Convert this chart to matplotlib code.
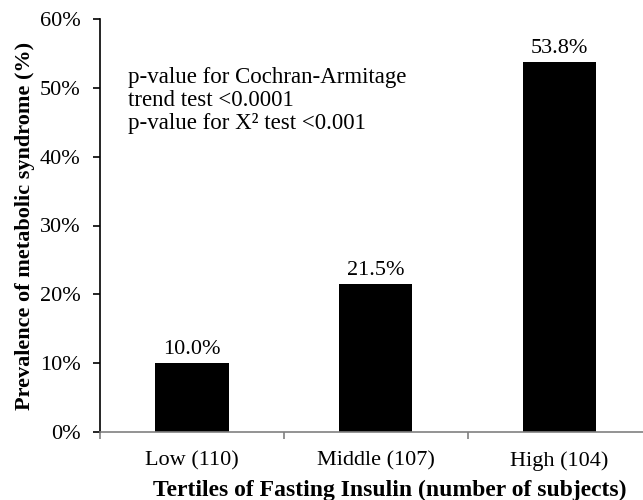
import matplotlib
matplotlib.use("Agg")
import matplotlib.pyplot as plt
from matplotlib.ticker import FixedLocator, NullFormatter

categories = ["Low (110)", "Middle (107)", "High (104)"]
values = [10.0, 21.5, 53.8]
value_labels = ["10.0%", "21.5%", "53.8%"]
yticks = [0, 10, 20, 30, 40, 50, 60]
notes = ["p-value for Cochran-Armitage", "trend test <0.0001", "p-value for X\u00b2 test <0.001"]

plt.rcParams['font.family'] = ['Liberation Serif', 'DejaVu Serif']

fig = plt.figure(figsize=(6.43, 5.0), dpi=100)
W, H = 643, 500
ax = fig.add_axes([100 / W, (H - 432) / H, (643 - 100) / W, (432 - 19) / H])

x = list(range(len(categories)))
ax.bar(x, values, width=0.40, color='black')
for xi, v, lab in zip(x, values, value_labels):
    ax.text(xi, v + 0.6, lab, ha='center', va='bottom', fontsize=16)

ax.set_xlim(-0.5, 2.454)
ax.set_ylim(0, 60)
ax.set_yticks(yticks)
ax.set_yticklabels([f"{t}%" for t in yticks], fontsize=16)
ax.set_xticks(x)
ax.set_xticklabels(categories, fontsize=16)
ax.tick_params(axis='x', which='major', length=0, pad=14)
ax.xaxis.set_minor_locator(FixedLocator([-0.5, 0.5, 1.5]))
ax.xaxis.set_minor_formatter(NullFormatter())
ax.tick_params(axis='x', which='minor', length=5, color='#808080', direction='out', width=1.2)
ax.tick_params(axis='y', length=5, direction='out', width=1.2, pad=9)

for s in ['top', 'right']:
    ax.spines[s].set_visible(False)
ax.spines['left'].set_linewidth(1.2)
ax.spines['bottom'].set_color('#808080')
ax.spines['bottom'].set_linewidth(1.2)

ax.set_xlabel("Tertiles of Fasting Insulin (number of subjects)", fontsize=17,
              fontweight='bold', va='center')
ax.xaxis.set_label_coords((390 - 100) / 543, (432 - 490) / 413)
ax.set_ylabel("Prevalence of metabolic syndrome (%)", fontsize=16,
              fontweight='bold', va='center')
ax.yaxis.set_label_coords((25 - 100) / 543, (432 - 226) / 413)

for i, line in enumerate(notes):
    fig.text(128 / W, 1 - (77 + 23 * i) / H, line, fontsize=16.5, va='center', ha='left')

fig.savefig("out.png", dpi=100)
